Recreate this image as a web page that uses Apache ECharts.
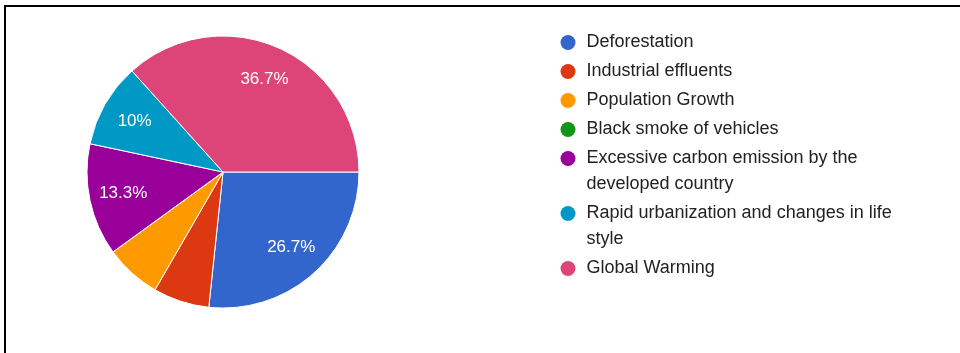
<!DOCTYPE html>
<html>
<head>
<meta charset="utf-8">
<script src="https://cdn.jsdelivr.net/npm/echarts@6/dist/echarts.min.js"></script>
<style>
    * { margin: 0; padding: 0; }
    body { background: #fff; }
    #main { width: 960px; height: 353px; }
</style>
</head>
<body>
<div id="main"></div>
<script>
    // responses per cause (30 answers in total)
    var causes = ['Deforestation', 'Industrial effluents', 'Population Growth', 'Black smoke of vehicles',
        'Excessive carbon emission by the developed country', 'Rapid urbanization and changes in life style',
        'Global Warming'];
    var counts = [8, 2, 2, 0, 4, 3, 11];
    var colors = ['#3366cc', '#dc3912', '#ff9900', '#109618', '#990099', '#0099c6', '#dd4477'];

    var total = counts.reduce(function (a, b) { return a + b; }, 0);
    var pieData = causes.map(function (name, i) {
        return {name: name, value: counts[i], itemStyle: {color: colors[i]}};
    });

    var FONT = 'Arial, "Liberation Sans", sans-serif';
    var WRAP = 320;
    // dot at the top of a taller icon box, so it sits beside the first of two lines
    var TOP_DOT = 'path://M7.5,0A7.5,7.5,0,1,1,7.5,15A7.5,7.5,0,1,1,7.5,0ZM7.5,41';

    // how many lines each legend name takes
    var ctx = document.createElement('canvas').getContext('2d');
    ctx.font = '18px Arial, "Liberation Sans"';
    var lines = causes.map(function (name) {
        return ctx.measureText(name).width > WRAP ? 2 : 1;
    });

    // one legend block per cause, stacked down the right side
    var legends = [];
    var y = 42.5;
    causes.forEach(function (name, i) {
        var two = lines[i] === 2;
        legends.push({
            orient: 'vertical',
            left: 560.5,
            top: y - 13,
            padding: 0,
            icon: two ? TOP_DOT : 'circle',
            itemWidth: 27,
            itemHeight: two ? 41 : 15,
            selectedMode: false,
            itemStyle: {borderWidth: 0},
            data: [name],
            textStyle: {
                fontFamily: FONT,
                fontSize: 18,
                color: '#222',
                lineHeight: 26,
                width: WRAP,
                overflow: 'break'
            }
        });
        y += 29 + 26 * (lines[i] - 1);
    });

    var chart = echarts.init(document.getElementById('main'));
    chart.setOption({
        animation: false,
        color: colors,
        legend: legends,
        graphic: [{
            type: 'polyline',
            shape: {points: [[5, 353], [5, 6], [960, 6]]},
            style: {stroke: '#000', lineWidth: 2, fill: null},
            silent: true
        }],
        series: [
            {
                type: 'pie',
                center: [223, 172],
                radius: [0, 136],
                startAngle: 0,
                clockwise: true,
                stillShowZeroSum: true,
                label: {show: false},
                labelLine: {show: false},
                itemStyle: {borderColor: '#fff', borderWidth: 1},
                emphasis: {disabled: true},
                data: pieData
            },
            { // transparent ring, only carries the percent labels
                type: 'pie',
                center: [223, 172],
                radius: [62, 136],
                startAngle: 0,
                clockwise: true,
                silent: true,
                itemStyle: {color: 'rgba(0,0,0,0)'},
                label: {
                    show: true,
                    position: 'inside',
                    fontFamily: FONT,
                    fontSize: 17,
                    color: '#fff',
                    formatter: function (p) {
                        var pct = Math.round(p.value / total * 1000) / 10;
                        return pct < 8 ? '' : pct + '%';
                    }
                },
                labelLine: {show: false},
                emphasis: {disabled: true},
                data: counts.map(function (v, i) { return {name: causes[i], value: v}; })
            }
        ]
    });
</script>
</body>
</html>
